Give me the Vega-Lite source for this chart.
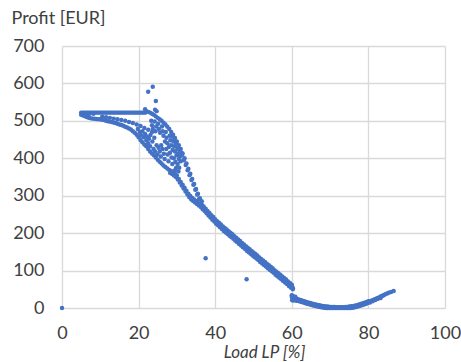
{
  "$schema": "https://vega.github.io/schema/vega-lite/v6.json",
  "width": 383,
  "height": 262,
  "autosize": {"type": "none"},
  "padding": {"left": 62, "top": 46, "right": 16, "bottom": 54},
  "config": {"view": {"stroke": null}, "font": "Lato"},
  "data": {
    "values": [
      {"load": 0, "profit": 0},
      {"load": 5, "profit": 522}, {"load": 5.4, "profit": 522}, {"load": 5.8, "profit": 522}, {"load": 6.2, "profit": 522}, {"load": 6.6, "profit": 522},
      {"load": 7, "profit": 522}, {"load": 7.4, "profit": 522}, {"load": 7.8, "profit": 522}, {"load": 8.2, "profit": 522}, {"load": 8.6, "profit": 522},
      {"load": 9, "profit": 522}, {"load": 9.4, "profit": 522}, {"load": 9.8, "profit": 522}, {"load": 10.2, "profit": 522}, {"load": 10.6, "profit": 522},
      {"load": 11, "profit": 522}, {"load": 11.4, "profit": 522}, {"load": 11.8, "profit": 522}, {"load": 12.2, "profit": 522}, {"load": 12.6, "profit": 522},
      {"load": 13, "profit": 522}, {"load": 13.4, "profit": 522}, {"load": 13.8, "profit": 522}, {"load": 14.2, "profit": 522}, {"load": 14.6, "profit": 522},
      {"load": 15, "profit": 522}, {"load": 15.4, "profit": 522}, {"load": 15.8, "profit": 522}, {"load": 16.2, "profit": 522}, {"load": 16.6, "profit": 522},
      {"load": 17, "profit": 522}, {"load": 17.4, "profit": 522}, {"load": 17.8, "profit": 522}, {"load": 18.2, "profit": 522}, {"load": 18.6, "profit": 522},
      {"load": 19, "profit": 522}, {"load": 19.4, "profit": 522}, {"load": 19.8, "profit": 522}, {"load": 20.2, "profit": 522}, {"load": 20.6, "profit": 522},
      {"load": 21, "profit": 522}, {"load": 21.4, "profit": 522}, {"load": 21.8, "profit": 522},
      {"load": 5.3, "profit": 519}, {"load": 6.1, "profit": 518}, {"load": 7, "profit": 517}, {"load": 8.2, "profit": 519},

      {"load": 10.5, "profit": 511}, {"load": 11.5, "profit": 509.5}, {"load": 12.5, "profit": 508}, {"load": 13.5, "profit": 506}, {"load": 14.5, "profit": 504},
      {"load": 15.5, "profit": 502}, {"load": 16.5, "profit": 500}, {"load": 17.5, "profit": 497}, {"load": 18.5, "profit": 494}, {"load": 19.5, "profit": 490},
      {"load": 20.5, "profit": 486}, {"load": 21.5, "profit": 481}, {"load": 22.5, "profit": 476}, {"load": 23.5, "profit": 470},

      {"load": 5, "profit": 516}, {"load": 5.5, "profit": 514}, {"load": 6, "profit": 512}, {"load": 6.5, "profit": 510}, {"load": 7, "profit": 508},
      {"load": 7.5, "profit": 507}, {"load": 8, "profit": 506}, {"load": 8.5, "profit": 505.5}, {"load": 9, "profit": 505}, {"load": 9.5, "profit": 504.5},
      {"load": 10, "profit": 504}, {"load": 10.5, "profit": 503}, {"load": 11, "profit": 502}, {"load": 11.5, "profit": 500.5}, {"load": 12, "profit": 499},
      {"load": 12.5, "profit": 498}, {"load": 13, "profit": 497}, {"load": 13.5, "profit": 495.5}, {"load": 14, "profit": 494}, {"load": 14.5, "profit": 492},
      {"load": 15, "profit": 490.5}, {"load": 15.5, "profit": 489}, {"load": 16, "profit": 487}, {"load": 16.5, "profit": 484.5}, {"load": 17, "profit": 482},
      {"load": 17.5, "profit": 479.5}, {"load": 18, "profit": 477}, {"load": 18.5, "profit": 472}, {"load": 19, "profit": 468}, {"load": 19.5, "profit": 463},
      {"load": 20, "profit": 456}, {"load": 20.5, "profit": 449}, {"load": 21, "profit": 443}, {"load": 21.5, "profit": 437}, {"load": 22, "profit": 432},
      {"load": 22.5, "profit": 425}, {"load": 23, "profit": 418}, {"load": 23.5, "profit": 413}, {"load": 24, "profit": 408}, {"load": 24.5, "profit": 402},
      {"load": 25, "profit": 396}, {"load": 25.5, "profit": 391}, {"load": 26, "profit": 386}, {"load": 26.5, "profit": 381}, {"load": 27, "profit": 377},
      {"load": 27.5, "profit": 373}, {"load": 28, "profit": 369}, {"load": 28.5, "profit": 366}, {"load": 29, "profit": 362}, {"load": 29.5, "profit": 358},
      {"load": 30, "profit": 354}, {"load": 30.5, "profit": 345}, {"load": 31, "profit": 337}, {"load": 31.5, "profit": 329}, {"load": 32, "profit": 321},
      {"load": 32.5, "profit": 313}, {"load": 33, "profit": 305}, {"load": 33.5, "profit": 299}, {"load": 34, "profit": 294}, {"load": 34.5, "profit": 290},
      {"load": 35, "profit": 286}, {"load": 35.5, "profit": 281},
      {"load": 28.25, "profit": 361}, {"load": 28.75, "profit": 358}, {"load": 29.25, "profit": 354}, {"load": 29.75, "profit": 350}, {"load": 30.25, "profit": 343},
      {"load": 30.75, "profit": 335}, {"load": 31.25, "profit": 327}, {"load": 31.75, "profit": 319}, {"load": 32.25, "profit": 311}, {"load": 32.75, "profit": 303},
      {"load": 33.25, "profit": 296}, {"load": 33.75, "profit": 290}, {"load": 34.25, "profit": 286}, {"load": 34.75, "profit": 282}, {"load": 35.25, "profit": 278},
      {"load": 35.75, "profit": 274},

      {"load": 22, "profit": 526}, {"load": 22.5, "profit": 524}, {"load": 23, "profit": 522}, {"load": 23.5, "profit": 519}, {"load": 24, "profit": 516},
      {"load": 24.5, "profit": 512}, {"load": 25, "profit": 508}, {"load": 25.5, "profit": 504}, {"load": 26, "profit": 500}, {"load": 26.5, "profit": 495},
      {"load": 27, "profit": 490}, {"load": 27.5, "profit": 484}, {"load": 28, "profit": 478}, {"load": 28.5, "profit": 470.5}, {"load": 29, "profit": 463},
      {"load": 29.5, "profit": 454}, {"load": 30, "profit": 445}, {"load": 30.5, "profit": 435}, {"load": 31, "profit": 425}, {"load": 31.5, "profit": 412.5},
      {"load": 32, "profit": 400}, {"load": 32.5, "profit": 386}, {"load": 33, "profit": 372}, {"load": 33.5, "profit": 358.5}, {"load": 34, "profit": 345},
      {"load": 34.5, "profit": 331.5}, {"load": 35, "profit": 318}, {"load": 35.5, "profit": 305.5}, {"load": 36, "profit": 293}, {"load": 36.5, "profit": 285},
      {"load": 28.8, "profit": 458}, {"load": 29.3, "profit": 449}, {"load": 29.8, "profit": 440}, {"load": 30.3, "profit": 430}, {"load": 30.8, "profit": 419},
      {"load": 31.3, "profit": 408}, {"load": 31.8, "profit": 395}, {"load": 32.3, "profit": 382}, {"load": 32.8, "profit": 368}, {"load": 33.3, "profit": 355},
      {"load": 33.8, "profit": 342}, {"load": 34.3, "profit": 329}, {"load": 34.8, "profit": 316}, {"load": 35.3, "profit": 303}, {"load": 35.8, "profit": 291},

      {"load": 19.8, "profit": 478}, {"load": 20.3, "profit": 470}, {"load": 20.6, "profit": 462}, {"load": 21, "profit": 472}, {"load": 21.3, "profit": 456},
      {"load": 21.7, "profit": 465}, {"load": 22, "profit": 448}, {"load": 22.2, "profit": 458}, {"load": 22.5, "profit": 440}, {"load": 22.7, "profit": 452},
      {"load": 23, "profit": 432}, {"load": 23.1, "profit": 462}, {"load": 23.3, "profit": 500}, {"load": 23.5, "profit": 488}, {"load": 23.7, "profit": 478},
      {"load": 23.6, "profit": 445}, {"load": 23.9, "profit": 425}, {"load": 24.1, "profit": 455}, {"load": 24.2, "profit": 498}, {"load": 24.4, "profit": 472},
      {"load": 24.6, "profit": 485}, {"load": 24.3, "profit": 418}, {"load": 24.7, "profit": 435}, {"load": 24.9, "profit": 410}, {"load": 25.1, "profit": 492},
      {"load": 25.3, "profit": 478}, {"load": 25.6, "profit": 468}, {"load": 25.2, "profit": 428}, {"load": 25.5, "profit": 418}, {"load": 25.8, "profit": 405},
      {"load": 25.9, "profit": 435}, {"load": 26.1, "profit": 485}, {"load": 26.3, "profit": 472}, {"load": 26.5, "profit": 460}, {"load": 26.2, "profit": 425},
      {"load": 26.6, "profit": 412}, {"load": 26.8, "profit": 398}, {"load": 26.9, "profit": 445}, {"load": 27.1, "profit": 470}, {"load": 27.3, "profit": 455},
      {"load": 27.5, "profit": 440}, {"load": 27.2, "profit": 425}, {"load": 27.6, "profit": 410}, {"load": 27.8, "profit": 392}, {"load": 27.9, "profit": 430},
      {"load": 28.1, "profit": 460}, {"load": 28.3, "profit": 448}, {"load": 28.5, "profit": 435}, {"load": 28.2, "profit": 415}, {"load": 28.6, "profit": 402},
      {"load": 28.8, "profit": 385}, {"load": 28.9, "profit": 422}, {"load": 29.1, "profit": 445}, {"load": 29.3, "profit": 432}, {"load": 29.5, "profit": 418},
      {"load": 29.2, "profit": 400}, {"load": 29.6, "profit": 390}, {"load": 29.8, "profit": 375}, {"load": 29.9, "profit": 408}, {"load": 30.1, "profit": 425},
      {"load": 30.3, "profit": 412}, {"load": 30.5, "profit": 398}, {"load": 30.2, "profit": 385}, {"load": 30.6, "profit": 375}, {"load": 30.8, "profit": 405},
      {"load": 31, "profit": 392}, {"load": 31.2, "profit": 415}, {"load": 30.4, "profit": 365}, {"load": 29.5, "profit": 368},

      {"load": 22.5, "profit": 578}, {"load": 23.7, "profit": 591}, {"load": 24.5, "profit": 553}, {"load": 21.7, "profit": 531}, {"load": 24.7, "profit": 526},
      {"load": 24.3, "profit": 530}, {"load": 37.5, "profit": 133}, {"load": 48.2, "profit": 77},

      {"load": 36.5, "profit": 276}, {"load": 37, "profit": 271}, {"load": 37.5, "profit": 265}, {"load": 38, "profit": 259}, {"load": 38.5, "profit": 254},
      {"load": 39, "profit": 248}, {"load": 39.5, "profit": 243}, {"load": 40, "profit": 237}, {"load": 40.5, "profit": 232}, {"load": 41, "profit": 228},
      {"load": 41.5, "profit": 223}, {"load": 42, "profit": 218}, {"load": 42.5, "profit": 214}, {"load": 43, "profit": 210}, {"load": 43.5, "profit": 205},
      {"load": 44, "profit": 201}, {"load": 44.5, "profit": 197}, {"load": 45, "profit": 192}, {"load": 45.5, "profit": 188}, {"load": 46, "profit": 183},
      {"load": 46.5, "profit": 179}, {"load": 47, "profit": 174}, {"load": 47.5, "profit": 170}, {"load": 48, "profit": 165}, {"load": 48.5, "profit": 161},
      {"load": 49, "profit": 157}, {"load": 49.5, "profit": 152}, {"load": 50, "profit": 148}, {"load": 50.5, "profit": 144}, {"load": 51, "profit": 140},
      {"load": 51.5, "profit": 135}, {"load": 52, "profit": 131}, {"load": 52.5, "profit": 127}, {"load": 53, "profit": 123}, {"load": 53.5, "profit": 118},
      {"load": 54, "profit": 114}, {"load": 54.5, "profit": 110}, {"load": 55, "profit": 106}, {"load": 55.5, "profit": 101}, {"load": 56, "profit": 97},
      {"load": 56.5, "profit": 93}, {"load": 57, "profit": 89}, {"load": 57.5, "profit": 84}, {"load": 58, "profit": 80}, {"load": 58.5, "profit": 76},
      {"load": 59, "profit": 71}, {"load": 59.5, "profit": 67}, {"load": 60, "profit": 62},
      {"load": 36.25, "profit": 270}, {"load": 36.75, "profit": 264}, {"load": 37.25, "profit": 259}, {"load": 37.75, "profit": 253}, {"load": 38.25, "profit": 247},
      {"load": 38.75, "profit": 242}, {"load": 39.25, "profit": 236}, {"load": 39.75, "profit": 231}, {"load": 40.25, "profit": 225}, {"load": 40.75, "profit": 221},
      {"load": 41.25, "profit": 216}, {"load": 41.75, "profit": 211}, {"load": 42.25, "profit": 206}, {"load": 42.75, "profit": 202}, {"load": 43.25, "profit": 198},
      {"load": 43.75, "profit": 193}, {"load": 44.25, "profit": 189}, {"load": 44.75, "profit": 185}, {"load": 45.25, "profit": 180}, {"load": 45.75, "profit": 176},
      {"load": 46.25, "profit": 171}, {"load": 46.75, "profit": 167}, {"load": 47.25, "profit": 162}, {"load": 47.75, "profit": 158}, {"load": 48.25, "profit": 153},
      {"load": 48.75, "profit": 149}, {"load": 49.25, "profit": 145}, {"load": 49.75, "profit": 140}, {"load": 50.25, "profit": 136}, {"load": 50.75, "profit": 132},
      {"load": 51.25, "profit": 128}, {"load": 51.75, "profit": 123}, {"load": 52.25, "profit": 119}, {"load": 52.75, "profit": 115}, {"load": 53.25, "profit": 111},
      {"load": 53.75, "profit": 106}, {"load": 54.25, "profit": 102}, {"load": 54.75, "profit": 98}, {"load": 55.25, "profit": 94}, {"load": 55.75, "profit": 89},
      {"load": 56.25, "profit": 85}, {"load": 56.75, "profit": 81}, {"load": 57.25, "profit": 77}, {"load": 57.75, "profit": 72}, {"load": 58.25, "profit": 68},
      {"load": 58.75, "profit": 64}, {"load": 59.25, "profit": 59}, {"load": 59.75, "profit": 55}, {"load": 60.25, "profit": 50},
      {"load": 59.8, "profit": 60}, {"load": 60.1, "profit": 57}, {"load": 60.3, "profit": 53}, {"load": 59.5, "profit": 58},

      {"load": 60, "profit": 30}, {"load": 60.4, "profit": 28.4}, {"load": 60.8, "profit": 26.8}, {"load": 61.2, "profit": 25.2}, {"load": 61.6, "profit": 23.6},
      {"load": 62, "profit": 22}, {"load": 62.4, "profit": 20.8}, {"load": 62.8, "profit": 19.6}, {"load": 63.2, "profit": 18.3}, {"load": 63.6, "profit": 16.9},
      {"load": 64, "profit": 15.5}, {"load": 64.4, "profit": 14.3}, {"load": 64.8, "profit": 13.1}, {"load": 65.2, "profit": 12}, {"load": 65.6, "profit": 11},
      {"load": 66, "profit": 10}, {"load": 66.4, "profit": 9}, {"load": 66.8, "profit": 8}, {"load": 67.2, "profit": 7.1}, {"load": 67.6, "profit": 6.3},
      {"load": 68, "profit": 5.5}, {"load": 68.4, "profit": 4.9}, {"load": 68.8, "profit": 4.3}, {"load": 69.2, "profit": 3.8}, {"load": 69.6, "profit": 3.4},
      {"load": 70, "profit": 3}, {"load": 70.4, "profit": 2.8}, {"load": 70.8, "profit": 2.6}, {"load": 71.2, "profit": 2.4}, {"load": 71.6, "profit": 2.3},
      {"load": 72, "profit": 2.2}, {"load": 72.4, "profit": 2.2}, {"load": 72.8, "profit": 2.2}, {"load": 73.2, "profit": 2.2}, {"load": 73.6, "profit": 2.2},
      {"load": 74, "profit": 2.5}, {"load": 74.4, "profit": 2.9}, {"load": 74.8, "profit": 3.3}, {"load": 75.2, "profit": 3.8}, {"load": 75.6, "profit": 4.4},
      {"load": 76, "profit": 5}, {"load": 76.4, "profit": 6}, {"load": 76.8, "profit": 7}, {"load": 77.2, "profit": 8.1}, {"load": 77.6, "profit": 9.3},
      {"load": 78, "profit": 10.5}, {"load": 78.4, "profit": 11.9}, {"load": 78.8, "profit": 13.3}, {"load": 79.2, "profit": 14.8}, {"load": 79.6, "profit": 16.4},
      {"load": 80, "profit": 18},
      {"load": 60.2, "profit": 25.2}, {"load": 60.6, "profit": 23.6}, {"load": 61, "profit": 22}, {"load": 61.4, "profit": 20.4}, {"load": 61.8, "profit": 18.8},
      {"load": 62.2, "profit": 17.4}, {"load": 62.6, "profit": 16.2}, {"load": 63, "profit": 15}, {"load": 63.4, "profit": 13.6}, {"load": 63.8, "profit": 12.2},
      {"load": 64.2, "profit": 10.9}, {"load": 64.6, "profit": 9.7}, {"load": 65, "profit": 8.5}, {"load": 65.4, "profit": 7.5}, {"load": 65.8, "profit": 6.5},
      {"load": 66.2, "profit": 5.5}, {"load": 66.6, "profit": 4.5}, {"load": 67, "profit": 3.5}, {"load": 67.4, "profit": 2.7}, {"load": 67.8, "profit": 1.9},
      {"load": 68.2, "profit": 1.2}, {"load": 68.6, "profit": 0.6}, {"load": 69, "profit": 0}, {"load": 69.4, "profit": 0}, {"load": 69.8, "profit": 0},
      {"load": 70.2, "profit": 0}, {"load": 70.6, "profit": 0}, {"load": 71, "profit": 0}, {"load": 71.4, "profit": 0}, {"load": 71.8, "profit": 0},
      {"load": 72.2, "profit": 0}, {"load": 72.6, "profit": 0}, {"load": 73, "profit": 0}, {"load": 73.4, "profit": 0}, {"load": 73.8, "profit": 0},
      {"load": 74.2, "profit": 0}, {"load": 74.6, "profit": 0}, {"load": 75, "profit": 0}, {"load": 75.4, "profit": 0.1}, {"load": 75.8, "profit": 0.7},
      {"load": 76.2, "profit": 1.5}, {"load": 76.6, "profit": 2.5}, {"load": 77, "profit": 3.5}, {"load": 77.4, "profit": 4.7}, {"load": 77.8, "profit": 5.9},
      {"load": 78.2, "profit": 7.2}, {"load": 78.6, "profit": 8.6}, {"load": 79, "profit": 10}, {"load": 79.4, "profit": 11.6}, {"load": 79.8, "profit": 13.2},
      {"load": 60, "profit": 34}, {"load": 60.1, "profit": 21}, {"load": 60.3, "profit": 32}, {"load": 60.5, "profit": 20}, {"load": 60.9, "profit": 30},
      {"load": 61.3, "profit": 19},
      {"load": 80.2, "profit": 17}, {"load": 80.6, "profit": 18.5}, {"load": 81, "profit": 20}, {"load": 81.3, "profit": 21.5}, {"load": 81.6, "profit": 23},
      {"load": 81.9, "profit": 24}, {"load": 82.2, "profit": 25.5}, {"load": 82.5, "profit": 27}, {"load": 82.8, "profit": 28}, {"load": 83.1, "profit": 29.5},
      {"load": 83.4, "profit": 32}, {"load": 83.7, "profit": 33}, {"load": 84, "profit": 34}, {"load": 84.4, "profit": 37}, {"load": 84.9, "profit": 38.5},
      {"load": 85.3, "profit": 40.5}, {"load": 85.9, "profit": 43}, {"load": 86.6, "profit": 45.5},
      {"load": 80.4, "profit": 14.5}, {"load": 81.1, "profit": 18}, {"load": 81.8, "profit": 21.5}, {"load": 82.5, "profit": 24.5}, {"load": 83.2, "profit": 27}
    ]
  },
  "mark": {"type": "circle", "size": 20, "opacity": 1, "color": "#4472C4"},
  "encoding": {
    "x": {
      "field": "load",
      "type": "quantitative",
      "scale": {"domain": [0, 100], "nice": false, "zero": false},
      "axis": {
        "values": [0, 20, 40, 60, 80, 100],
        "grid": true, "gridColor": "#d9d9d9", "gridWidth": 1.3,
        "domain": false, "ticks": false, "tickSize": 0,
        "labelFont": "Lato", "labelFontSize": 18, "labelColor": "#404040",
        "labelPadding": 16, "labelFlush": false, "labelOverlap": false,
        "title": "Load LP [%]",
        "titleFont": "Lato", "titleFontSize": 17, "titleFontStyle": "italic", "titleFontWeight": "normal",
        "titleColor": "#404040", "titleX": 202, "titleY": 49, "titleAlign": "center", "titleBaseline": "alphabetic"
      }
    },
    "y": {
      "field": "profit",
      "type": "quantitative",
      "scale": {"domain": [0, 700], "nice": false},
      "axis": {
        "values": [0, 100, 200, 300, 400, 500, 600, 700],
        "grid": true, "gridColor": "#d9d9d9", "gridWidth": 1.3,
        "domain": false, "ticks": false, "tickSize": 0,
        "labelFont": "Lato", "labelFontSize": 18, "labelColor": "#404040",
        "labelPadding": 18, "labelFlush": false, "labelOverlap": false,
        "title": "Profit [EUR]",
        "titleFont": "Lato", "titleFontSize": 18, "titleFontWeight": "normal", "titleColor": "#404040",
        "titleAngle": 0, "titleX": -51, "titleY": -23, "titleAlign": "left", "titleBaseline": "alphabetic"
      }
    }
  }
}
